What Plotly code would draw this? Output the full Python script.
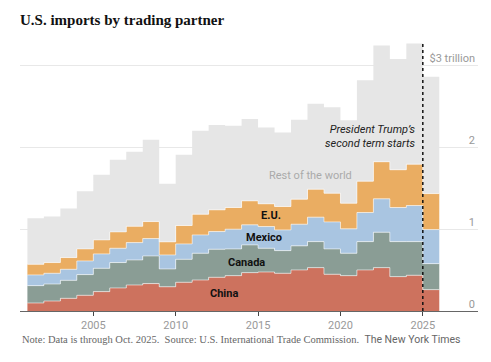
import plotly.graph_objects as go

years = list(range(2001, 2026))
china = [0.098, 0.122, 0.155, 0.192, 0.237, 0.282, 0.318, 0.335, 0.296, 0.351,
         0.379, 0.412, 0.432, 0.469, 0.477, 0.461, 0.502, 0.530, 0.449, 0.432,
         0.502, 0.530, 0.420, 0.437, 0.261]
canada = [0.212, 0.208, 0.220, 0.253, 0.285, 0.310, 0.306, 0.338, 0.218, 0.281,
          0.327, 0.343, 0.327, 0.339, 0.290, 0.277, 0.294, 0.318, 0.310, 0.274,
          0.346, 0.433, 0.428, 0.411, 0.318]
mexico = [0.131, 0.131, 0.135, 0.167, 0.176, 0.175, 0.212, 0.212, 0.171, 0.188,
          0.224, 0.216, 0.241, 0.245, 0.265, 0.253, 0.265, 0.299, 0.330, 0.298,
          0.356, 0.408, 0.417, 0.441, 0.416]
eu = [0.130, 0.131, 0.143, 0.147, 0.171, 0.200, 0.200, 0.208, 0.160, 0.225,
      0.253, 0.265, 0.265, 0.293, 0.278, 0.286, 0.306, 0.342, 0.351, 0.314,
      0.383, 0.453, 0.461, 0.506, 0.440]
rest = [0.563, 0.563, 0.600, 0.706, 0.796, 0.881, 0.910, 1.000, 0.710, 0.864,
        1.020, 1.037, 1.000, 1.000, 0.934, 0.906, 0.971, 1.045, 1.049, 1.012,
        1.232, 1.420, 1.354, 1.473, 1.428]

series_names = ["China", "Canada", "Mexico", "E.U.", "Rest of the world"]
series_vals = [china, canada, mexico, eu, rest]
series_colors = ["#cd725e", "#8a9d95", "#a9c5e1", "#eaad62", "#e6e6e6"]

xtick_vals = [2005, 2010, 2015, 2020, 2025]
ytick_vals = [0, 1, 2, 3]
ytick_text = ["0", "1", "2", "$3 trillion"]

# step edges: each year's bar spans [year, year+1]
x_steps = years + [years[-1] + 1]

fig = go.Figure()
for name, vals, col in zip(series_names, series_vals, series_colors):
    is_rest = name == "Rest of the world"
    fig.add_trace(go.Scatter(
        x=x_steps, y=vals + [vals[-1]],
        mode="lines", stackgroup="imports", line_shape="hv",
        line=dict(color="rgba(255,255,255,0.55)", width=0 if is_rest else 1),
        fillcolor=col, name=name, showlegend=False, hoverinfo="skip",
    ))

total_2024 = china[-2] + canada[-2] + mexico[-2] + eu[-2] + rest[-2]
fig.add_shape(type="line", x0=2025, x1=2025, y0=0, y1=total_2024,
              xref="x", yref="y", line=dict(color="#111", width=1.5, dash="dot"))

lab_font = dict(family="Roboto, Liberation Sans, sans-serif", size=11, color="#111")
labels = [("China", 2012.94, 0.22), ("Canada", 2014.28, 0.596),
          ("Mexico", 2015.35, 0.898), ("E.U.", 2015.81, 1.163)]
for t, x, y in labels:
    fig.add_annotation(x=x, y=y, text="<b>%s</b>" % t, showarrow=False,
                       font=lab_font, xanchor="center", yanchor="middle")
fig.add_annotation(x=2018.17, y=1.656, text="Rest of the world", showarrow=False,
                   font=dict(family="Roboto, Liberation Sans, sans-serif", size=11, color="#aaaaaa"))
fig.add_annotation(x=2025, y=2.13, xanchor="right", xshift=-6, align="right",
                   text="<i>President Trump’s<br>second term starts</i>", showarrow=False,
                   font=dict(family="Roboto, Liberation Sans, sans-serif", size=11, color="#222"))

fig.add_annotation(xref="paper", yref="paper", x=0, y=-0.104, xanchor="left", yanchor="middle",
                   showarrow=False,
                   text="Note: Data is through Oct. 2025.  Source: U.S. International Trade Commission.  "
                        "<span style='font-family:Roboto, Liberation Sans, sans-serif'>The New York Times</span>",
                   font=dict(family="Liberation Serif, serif", size=10.5, color="#666"))

W, H = 483, 354
fig.update_layout(
    width=W, height=H,
    margin=dict(l=12, r=13, t=33, b=51),
    paper_bgcolor="white", plot_bgcolor="white",
    title=dict(text="<b>U.S. imports by trading partner</b>", xref="container", yref="container",
               x=12 / W, xanchor="left", y=1 - 11.5 / H, yanchor="middle",
               font=dict(family="Liberation Serif, serif", size=15, color="#111")),
    xaxis=dict(range=[2000.55, 2028.35], tickvals=xtick_vals, ticks="outside", ticklen=4,
               tickcolor="#444", showline=True, linecolor="#666", linewidth=1,
               showgrid=False, zeroline=False,
               tickfont=dict(family="Roboto, Liberation Sans, sans-serif", size=11, color="#999")),
    yaxis=dict(range=[0, 3.3], tickvals=ytick_vals, ticktext=ytick_text, side="right",
               ticklabelposition="inside", ticklabelshift=-7, showgrid=True, gridcolor="#e8e8e8",
               zeroline=False, ticks="",
               tickfont=dict(family="Roboto, Liberation Sans, sans-serif", size=11, color="#999")),
)

fig.write_html("out.html")
